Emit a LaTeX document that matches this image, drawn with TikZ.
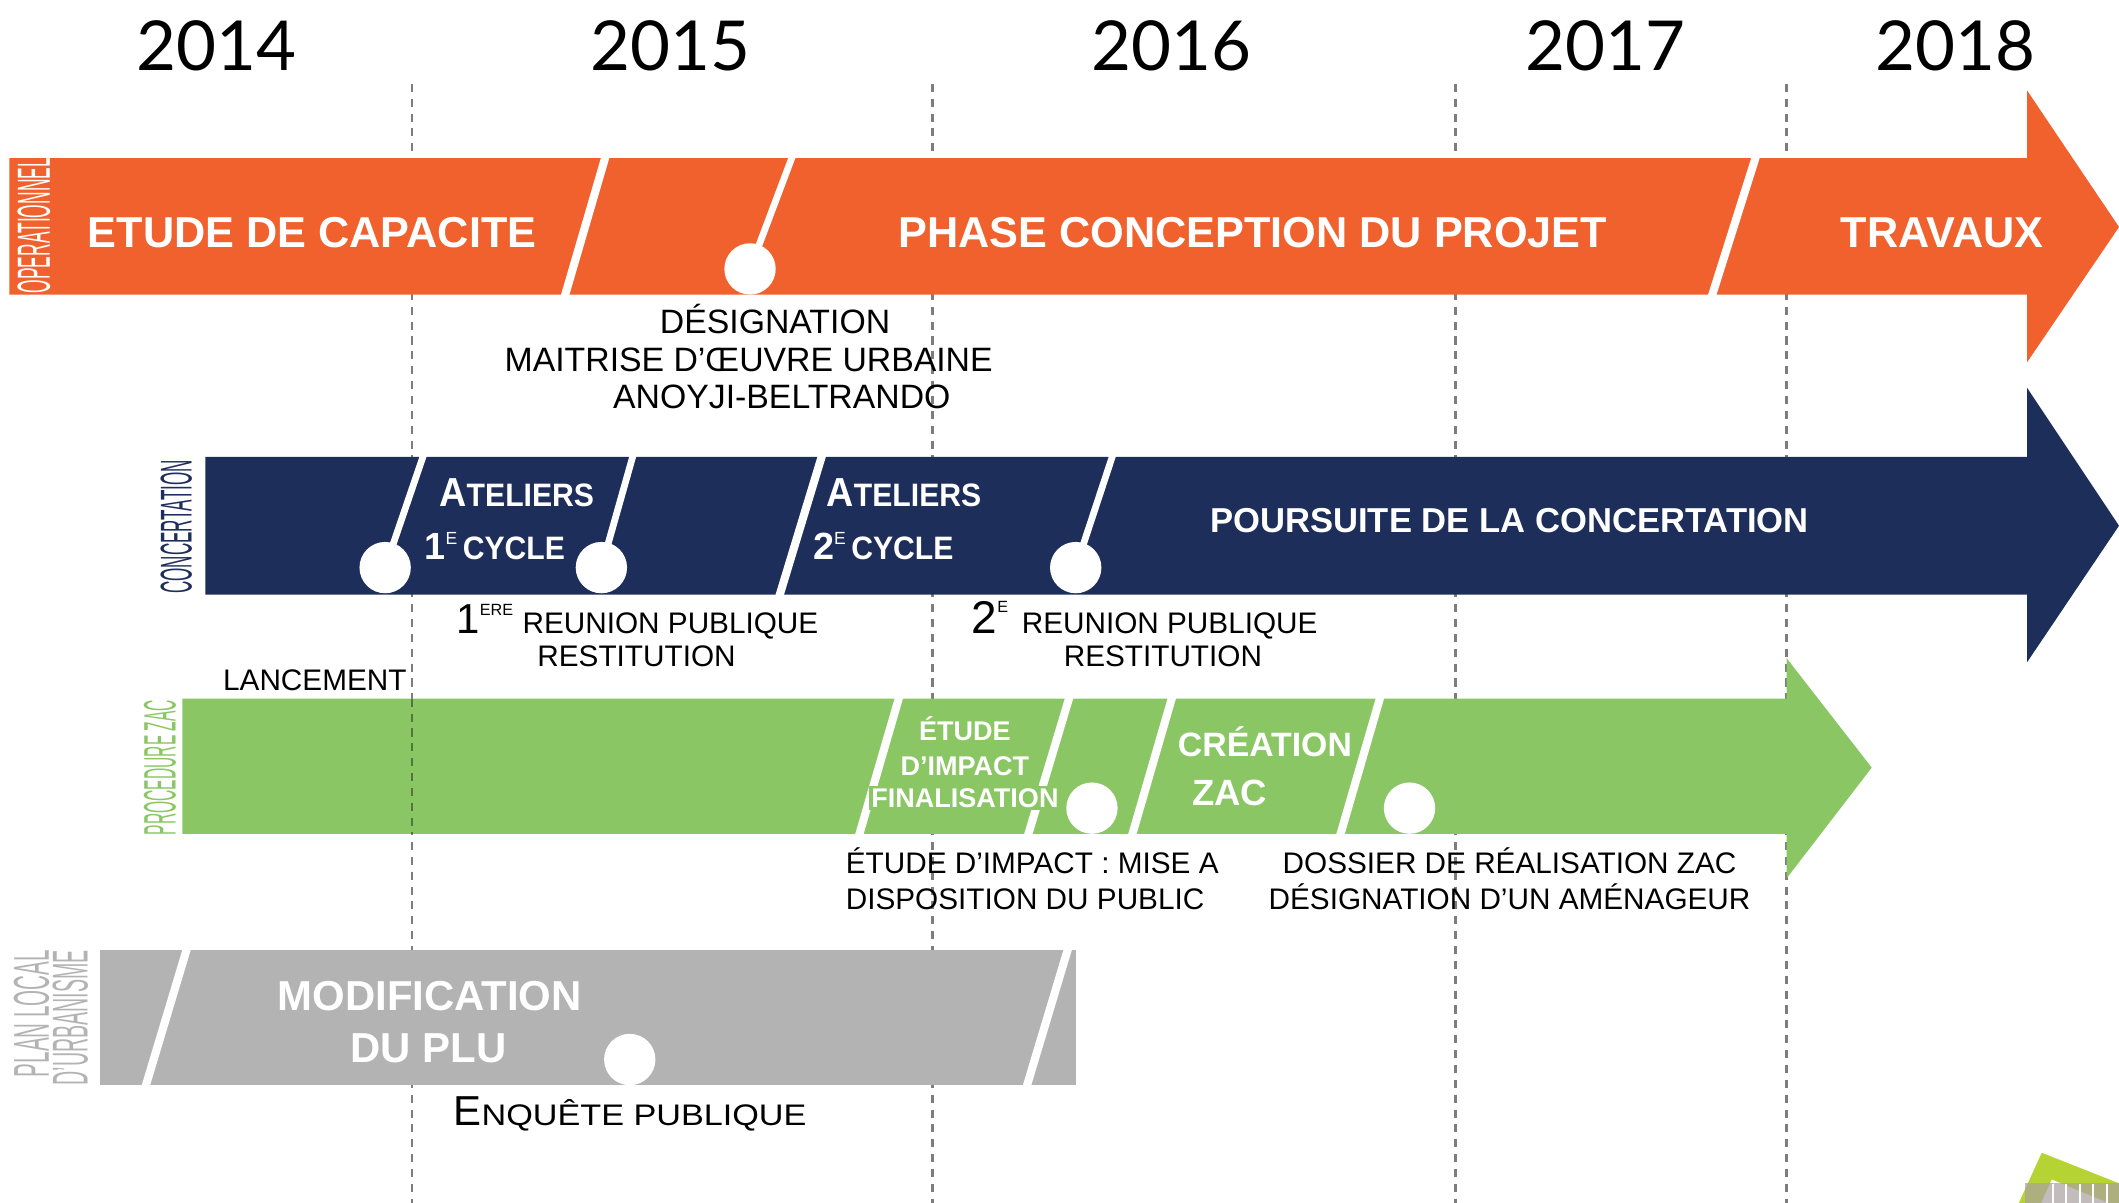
\documentclass[tikz,border=0pt]{standalone}
\usepackage{fontspec}
\usepackage{graphicx}
\setmainfont{Liberation Sans}
\newfontfamily\yearfont{Lato}
\definecolor{orng}{RGB}{240,97,45}
\definecolor{navy}{RGB}{30,46,90}
\definecolor{grn}{RGB}{138,198,100}
\definecolor{plugray}{RGB}{179,179,179}
\definecolor{dashgray}{RGB}{125,125,125}
\definecolor{lime}{RGB}{181,212,52}
\definecolor{logogray}{RGB}{170,160,160}
\tikzset{
  yearlbl/.style={anchor=base, inner sep=0, font=\yearfont\fontsize{51}{51}\selectfont},
  bartxt/.style={anchor=base, text=white, inner sep=0, font=\bfseries\fontsize{32}{32}\selectfont},
  zactxt/.style={anchor=base, text=white, inner sep=0, font=\bfseries\fontsize{20}{20}\selectfont},
  lbl/.style={anchor=base, inner sep=0, font=\fontsize{22}{22}\selectfont},
  bigblack/.style={anchor=base, inner sep=0, font=\fontsize{25}{25}\selectfont},
  sepline/.style={white, line width=6pt},
  stubline/.style={white, line width=5pt},
  milestone/.style={circle, fill=white, inner sep=0, minimum size=38pt},
  yearline/.style={dashgray, line width=1.6pt, dash pattern=on 6pt off 5pt},
  sidelabel/.style={rotate=90, inner sep=0},
  atelier/.style={anchor=base west, inner sep=0, text=white, font=\bfseries},
}
\begin{document}
\begin{tikzpicture}[x=1pt,y=-1pt]
\useasboundingbox (0,0) rectangle (1568,890);

% year separators
\foreach \xx in {305,690,1077,1322}{\draw[yearline] (\xx,62) -- (\xx,892);}

% years
\node[yearlbl] (y14) at (160,52) {2014};
\node[yearlbl] (y15) at (496,52) {2015};
\node[yearlbl] (y16) at (867,52) {2016};
\node[yearlbl] (y17) at (1188,52) {2017};
\node[yearlbl] (y18) at (1447,52) {2018};

% ---------- OPERATIONNEL (orange) ----------
\fill[orng] (7,117) -- (1500,117) -- (1500,67) -- (1568,168) -- (1500,268) -- (1500,218) -- (7,218) -- cycle;
\draw[sepline] (448.6,114) -- (417.4,221);
\draw[sepline] (1299.9,114) -- (1266.1,221);
\node[milestone] (m1) at (555,199) {};
\draw[stubline] (587,114) -- (m1.center);
\node[sidelabel, text=white] (s1) at (25,167) {\resizebox{100pt}{24pt}{OPERATIONNEL}};
\node[bartxt] (t1) at (231,183) {ETUDE DE CAPACITE};
\node[bartxt] (t2) at (927,183) {PHASE CONCEPTION DU PROJET};
\node[bartxt] (t3) at (1437,183) {TRAVAUX};

\node[bigblack] (d1) at (573.5,247) {DÉSIGNATION};
\node[bigblack] (d2) at (554,275) {MAITRISE D’ŒUVRE URBAINE};
\node[bigblack] (d3) at (578.5,302) {ANOYJI-BELTRANDO};

% ---------- CONCERTATION (navy) ----------
\fill[navy] (152,338) -- (1500,338) -- (1500,287) -- (1568,389) -- (1500,490) -- (1500,440) -- (152,440) -- cycle;
\node[milestone] (m2) at (285,420) {};
\node[milestone] (m3) at (445,420) {};
\node[milestone] (m4) at (796,420) {};
\draw[stubline] (314,335) -- (m2.center);
\draw[stubline] (469,335) -- (m3.center);
\draw[stubline] (824,335) -- (m4.center);
\draw[sepline] (608.9,335) -- (576.1,443);
\node[sidelabel, text=navy] (s2) at (130.5,390) {\resizebox{99pt}{23pt}{CONCERTATION}};
\node[atelier] (a1) at (325,375)
  {\scalebox{0.93}[1]{\fontsize{30}{30}\selectfont A\fontsize{24}{24}\selectfont TELIERS}};
\node[atelier] (c1) at (314,414)
  {\fontsize{28}{28}\selectfont 1\raisebox{11pt}{\mdseries\fontsize{13}{13}\selectfont E}\hspace{4pt}\scalebox{0.93}[1]{\fontsize{24}{24}\selectfont CYCLE}};
\node[atelier] (a2) at (611.5,375)
  {\scalebox{0.93}[1]{\fontsize{30}{30}\selectfont A\fontsize{24}{24}\selectfont TELIERS}};
\node[atelier] (c2) at (601.5,414)
  {\fontsize{28}{28}\selectfont 2\raisebox{11pt}{\mdseries\fontsize{13}{13}\selectfont E}\hspace{4pt}\scalebox{0.93}[1]{\fontsize{24}{24}\selectfont CYCLE}};
\node[anchor=base, inner sep=0, text=white, font=\bfseries\fontsize{25.6}{25.6}\selectfont] (t4) at (1117,394) {POURSUITE DE LA CONCERTATION};

\node[anchor=base west, inner sep=0] (r1) at (337.6,468.6)
  {\fontsize{31}{31}\selectfont 1\raisebox{13pt}{\fontsize{12}{12}\selectfont ERE}\hspace{7pt}\fontsize{22}{22}\selectfont REUNION PUBLIQUE};
\node[lbl] (r1b) at (471,493) {RESTITUTION};
\node[anchor=base west, inner sep=0] (r2) at (719,468.5)
  {\fontsize{34}{34}\selectfont 2\raisebox{15pt}{\fontsize{12}{12}\selectfont E}\hspace{10pt}\fontsize{22}{22}\selectfont REUNION PUBLIQUE};
\node[lbl] (r2b) at (860.5,493) {RESTITUTION};

% ---------- PROCEDURE ZAC (green) ----------
\fill[grn] (135,517) -- (1322,517) -- (1322,487) -- (1385,568) -- (1322,650) -- (1322,617) -- (135,617) -- cycle;
\draw[yearline, draw=black, opacity=0.4] (305,517) -- (305,617);
\draw[sepline] (665.6,515) -- (635.4,619);
\draw[sepline] (791.6,515) -- (760.4,619);
\draw[sepline] (867.6,515) -- (837.4,619);
\draw[sepline] (1021.6,515) -- (991.4,619);
\node[milestone] (m5) at (808,598) {};
\node[milestone] (m6) at (1043,598) {};
\node[sidelabel, text=grn] (s3) at (118.3,568) {\resizebox{100pt}{23.5pt}{PROCEDURE ZAC}};
\node[zactxt] (z1) at (714,548) {ÉTUDE};
\node[zactxt] (z2) at (714,573.5) {D’IMPACT};
\node[zactxt, fill=grn, inner xsep=2pt, inner ysep=2pt] (z3) at (714,597.3) {FINALISATION};
\node[anchor=base, inner sep=0, text=white, font=\bfseries\fontsize{25}{25}\selectfont] (z4) at (936,560) {CRÉATION};
\node[anchor=base, inner sep=0, text=white, font=\bfseries\fontsize{27}{27}\selectfont] (z5) at (910,595.7) {ZAC};

\node[lbl, anchor=base east] (l1) at (301,510.6) {LANCEMENT};
\node[lbl, anchor=base west] (e1) at (625.7,646) {ÉTUDE D’IMPACT : MISE A};
\node[lbl, anchor=base west] (e2) at (625.7,672.8) {DISPOSITION DU PUBLIC};
\node[lbl] (f1) at (1117,646) {DOSSIER DE RÉALISATION ZAC};
\node[lbl] (f2) at (1117,673) {DÉSIGNATION D’UN AMÉNAGEUR};

% ---------- PLU (gray) ----------
\fill[plugray] (74,703) rectangle (796,803);
\draw[sepline] (138.6,701) -- (107.4,805);
\draw[sepline] (790.6,701) -- (759.4,805);
\node[milestone] (m7) at (466,784) {};
\node[sidelabel, text=plugray] (s4) at (23.3,750) {\resizebox{94pt}{26pt}{PLAN LOCAL}};
\node[sidelabel, text=plugray] (s5) at (52,753) {\resizebox{100pt}{26pt}{D’URBANISME}};
\node[bartxt, font=\bfseries\fontsize{31}{31}\selectfont] (p1) at (318,747.4) {MODIFICATION};
\node[bartxt, font=\bfseries\fontsize{31}{31}\selectfont] (p2) at (317,786.4) {DU PLU};
\node[anchor=base west, inner sep=0] (q1) at (335.5,833)
  {\fontsize{31}{31}\selectfont E\fontsize{22}{22}\selectfont\scalebox{1.15}[1]{NQUÊTE PUBLIQUE}};

% ---------- logo fragment ----------
\fill[lime] (1493.5,891) -- (1510.8,853) -- (1568,875.6) -- (1568,891) -- (1562.3,891) -- (1518.2,872.7) -- (1510,891) -- cycle;
\fill[logogray, opacity=0.7] (1498.5,875.1) rectangle (1568,891);
\foreach \xx in {1519,1529,1539,1549,1559}{\draw[white, line width=1.5pt] (\xx,876) -- (\xx,891);}
\end{tikzpicture}
\end{document}
